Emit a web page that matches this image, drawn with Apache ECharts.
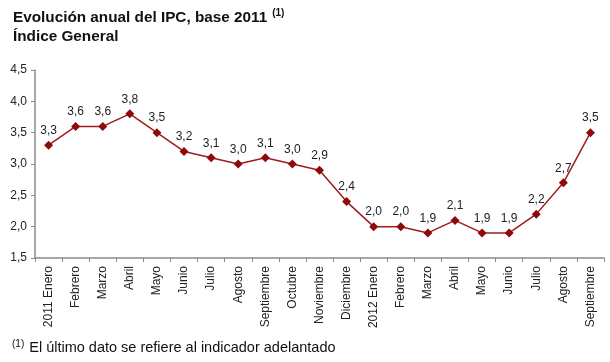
<!DOCTYPE html>
<html><head><meta charset="utf-8">
<script src="https://cdn.jsdelivr.net/npm/echarts@6/dist/echarts.min.js"></script>
<style>html,body{margin:0;padding:0;background:#fff}#c{width:610px;height:362px}</style>
</head><body><div id="c"></div>
<script>
const categories = ['2011 Enero','Febrero','Marzo','Abril','Mayo','Junio','Julio','Agosto','Septiembre','Octubre','Noviembre','Diciembre','2012 Enero','Febrero','Marzo','Abril','Mayo','Junio','Julio','Agosto','Septiembre'];
const values = [3.3,3.6,3.6,3.8,3.5,3.2,3.1,3.0,3.1,3.0,2.9,2.4,2.0,2.0,1.9,2.1,1.9,1.9,2.2,2.7,3.5];
const yTicks = {min:1.5, max:4.5, interval:0.5};
const fmt = v => v.toFixed(1).replace('.', ',');
const FF = 'Liberation Sans, Arial, sans-serif';
const chart = echarts.init(document.getElementById('c'));
chart.setOption({
  animation:false,
  textStyle:{fontFamily:FF},
  title:[{
    left:8, top:3,
    text:'{a|Evolución anual del IPC, base 2011} {s|(1)}\n{a|Índice General}',
    textStyle:{rich:{
      a:{fontSize:15.3,fontWeight:'bold',color:'#111',lineHeight:19,fontFamily:FF},
      s:{fontSize:10,fontWeight:'bold',color:'#111',padding:[0,0,9,0],fontFamily:FF}
    }}
  },{
    left:7, top:334,
    text:'{s|(1)} {a|El último dato se refiere al indicador adelantado}',
    textStyle:{fontWeight:'normal',rich:{
      a:{fontSize:14.5,fontWeight:'normal',color:'#111',fontFamily:FF},
      s:{fontSize:10,fontWeight:'normal',color:'#111',padding:[0,0,8,0],fontFamily:FF}
    }}
  }],
  grid:{left:35,right:6,top:70,bottom:104},
  xAxis:{
    type:'category', data:categories, boundaryGap:true,
    axisLine:{lineStyle:{color:'#8a8a8a',width:1.5}},
    axisTick:{show:true,alignWithLabel:false,length:4,lineStyle:{color:'#8a8a8a'}},
    axisLabel:{rotate:90,fontSize:12,color:'#222',margin:8,interval:0}
  },
  yAxis:{
    type:'value', min:yTicks.min, max:yTicks.max, interval:yTicks.interval,
    splitLine:{show:false},
    axisLine:{show:true,lineStyle:{color:'#8a8a8a',width:1.5}},
    axisTick:{show:true,length:4,lineStyle:{color:'#8a8a8a'}},
    axisLabel:{fontSize:12,color:'#222',margin:8,formatter:v=>fmt(v)}
  },
  series:[{
    type:'line', data:values,
    symbol:'diamond', symbolSize:9,
    lineStyle:{color:'#a01c1c',width:1.5},
    itemStyle:{color:'#8c0a0a'},
    label:{show:true,position:'top',distance:4,fontSize:12,color:'#222',formatter:p=>fmt(p.value)}
  }]
});
</script></body></html>
